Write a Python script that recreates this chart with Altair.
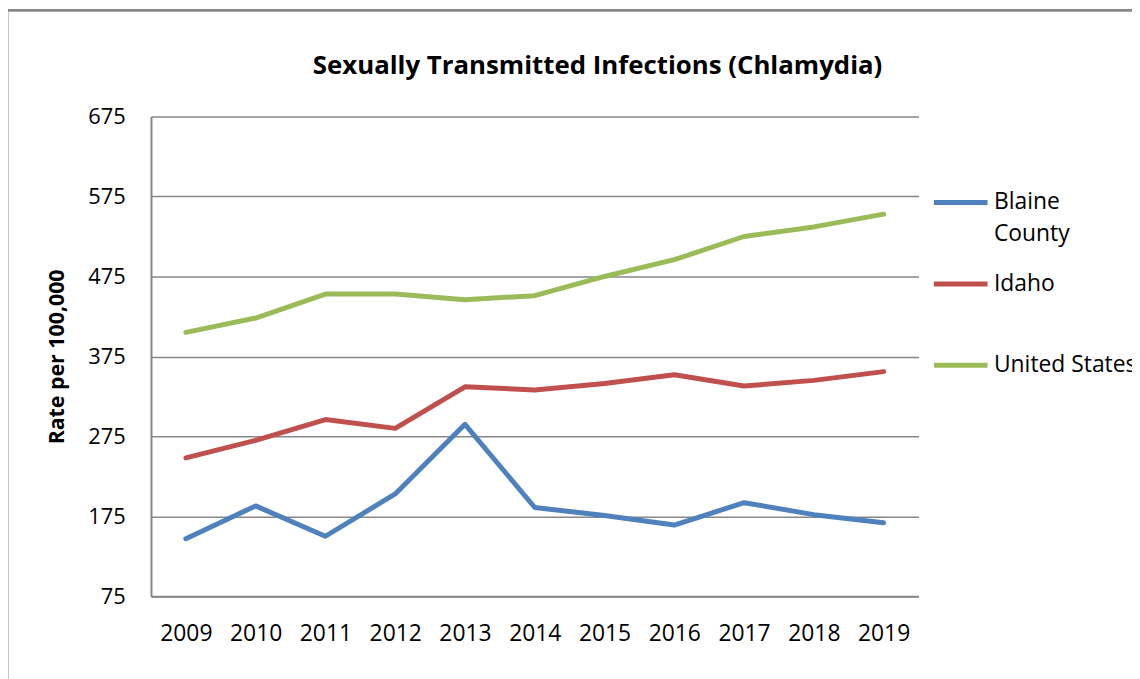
import altair as alt
import pandas as pd

years = [str(y) for y in range(2009, 2020)]
blaine = [147, 188, 150, 203, 290, 186, 176, 164, 192, 177, 167]
idaho = [248, 270, 296, 285, 337, 333, 341, 352, 338, 345, 356]
us = [405, 423, 453, 453, 446, 451, 475, 496, 525, 537, 553]
series = ["Blaine County", "Idaho", "United States"]
colors = ["#4F81BD", "#C0504D", "#9BBB59"]
y_ticks = [75, 175, 275, 375, 475, 575, 675]

rows = []
for name, vals in zip(series, [blaine, idaho, us]):
    for yr, v in zip(years, vals):
        rows.append({"Year": yr, "Series": name, "Rate": v})
df = pd.DataFrame(rows)

W, H = 773, 483
PL, PT = 144, 107
TOTAL_W, TOTAL_H = 1132, 671
FONT = "Open Sans"
GRAY = "#878787"

lines = alt.Chart(df).mark_line(strokeWidth=5, strokeCap="round", strokeJoin="round").encode(
    x=alt.X("Year:O", scale=alt.Scale(type="point", padding=0.5),
            axis=alt.Axis(title=None, labelAngle=0, ticks=False, grid=False,
                          domainColor=GRAY, domainWidth=2, labelFont=FONT,
                          labelFontSize=23, labelColor="#000000", labelPadding=20)),
    y=alt.Y("Rate:Q", scale=alt.Scale(domain=[75, 675], nice=False, zero=False),
            axis=alt.Axis(values=y_ticks, title="Rate per 100,000", ticks=False,
                          grid=True, gridColor=GRAY, gridWidth=1.5,
                          domainColor=GRAY, domainWidth=2, labelFont=FONT,
                          labelFontSize=22, labelColor="#000000", labelPadding=26,
                          labelOffset=-7,
                          titleFont=FONT, titleFontSize=21.5, titleFontWeight="bold",
                          titleColor="#000000", titlePadding=19)),
    color=alt.Color("Series:N", scale=alt.Scale(domain=series, range=colors),
                    legend=alt.Legend(title=None, orient="none", legendX=786, legendY=57,
                                      symbolType="stroke", symbolSize=2916,
                                      symbolStrokeWidth=5, labelFont=FONT,
                                      labelFontSize=23, labelColor="#000000",
                                      labelOffset=4, rowPadding=8, labelLimit=300,
                                      gridAlign="all", labelBaseline="alphabetic",
                                      labelExpr="datum.label == 'Blaine County' ? ['Blaine', 'County'] : datum.label")),
)

frame_df = pd.DataFrame({"a": [0]})
frame_left = alt.Chart(frame_df).mark_rule(color=GRAY, strokeWidth=3).encode(
    x=alt.value(-145), y=alt.value(-106), y2=alt.value(TOTAL_H)
)
frame_top = alt.Chart(frame_df).mark_rule(color=GRAY, strokeWidth=3).encode(
    x=alt.value(-146.5), x2=alt.value(TOTAL_W), y=alt.value(-107)
)

chart = alt.layer(frame_left, frame_top, lines).properties(
    width=W, height=H,
    title=alt.TitleParams("Sexually Transmitted Infections (Chlamydia)", anchor="start",
                          frame="group", dx=163, dy=109, offset=38, font=FONT, fontSize=26,
                          fontWeight="bold", color="#000000"),
    autosize=alt.AutoSizeParams(type="none"),
    padding={"left": PL, "top": PT, "right": TOTAL_W - PL - W, "bottom": TOTAL_H - PT - H},
).configure(
    background="#ffffff",
    view=alt.ViewConfig(stroke="transparent"),
    style={"guide-label": {"lineHeight": 32, "dy": 7}},
)

chart.save("out.html", embed_options={"renderer": "svg", "actions": False})
